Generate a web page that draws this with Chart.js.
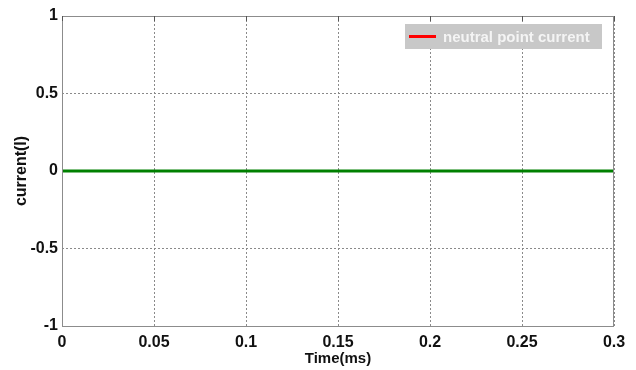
<!DOCTYPE html>
<html>
<head>
<meta charset="utf-8">
<script src="https://cdn.jsdelivr.net/npm/chart.js@4/dist/chart.umd.min.js"></script>
<style>
  html, body { margin: 0; padding: 0; background: #fff; }
  #wrap { width: 636px; height: 370px; }
</style>
</head>
<body>
<div id="wrap"><canvas id="plot"></canvas></div>
<script>
// time samples (ms) and neutral point current
var times = [0, 0.05, 0.1, 0.15, 0.2, 0.25, 0.3];
var current = [0, 0, 0, 0, 0, 0, 0];
var xTicks = [0, 0.05, 0.1, 0.15, 0.2, 0.25, 0.3];
var yTicks = [-1, -0.5, 0, 0.5, 1];

var points = times.map(function (t, i) { return { x: t, y: current[i] }; });

// frame + matlab style legend box
var framePlugin = {
    id: 'frame',
    afterDraw: function (chart) {
        var ctx = chart.ctx, a = chart.chartArea;
        ctx.save();
        ctx.strokeStyle = '#8c8c8c';
        ctx.lineWidth = 1;
        ctx.strokeRect(a.left + 0.5, a.top + 0.5, a.right - a.left - 1, a.bottom - a.top);
        // small ticks along the top edge
        var xs = chart.scales.x;
        ctx.strokeStyle = '#555';
        xTicks.forEach(function (v) {
            var px = Math.round(xs.getPixelForValue(v)) + 0.5;
            ctx.beginPath();
            ctx.moveTo(px, a.top);
            ctx.lineTo(px, a.top + 5);
            ctx.stroke();
        });
        // legend
        var bx = 405, by = 24, bw = 197, bh = 25;
        ctx.fillStyle = '#c8c8c8';
        ctx.fillRect(bx, by, bw, bh);
        ctx.strokeStyle = '#ff0000';
        ctx.lineWidth = 3;
        ctx.beginPath();
        ctx.moveTo(bx + 4, by + bh / 2);
        ctx.lineTo(bx + 31, by + bh / 2);
        ctx.stroke();
        ctx.fillStyle = '#f4f4f4';
        ctx.font = 'bold 15px "Liberation Sans", Arial, sans-serif';
        ctx.textBaseline = 'middle';
        ctx.fillText(chart.data.datasets[0].label, bx + 38, by + bh / 2 + 1);
        ctx.restore();
    }
};

var tickFont = { family: '"Liberation Sans", Arial, sans-serif', size: 16, weight: 'bold' };
var fmt = function (v) { return String(v); };

new Chart(document.getElementById('plot'), {
    type: 'line',
    data: {
        datasets: [{
            label: 'neutral point current',
            data: points,
            borderColor: '#008000',
            borderWidth: 3,
            pointRadius: 0,
            fill: false
        }]
    },
    options: {
        responsive: true,
        maintainAspectRatio: false,
        animation: false,
        layout: { padding: { top: 16, right: 22, left: 0, bottom: 0 } },
        plugins: {
            legend: { display: false },
            tooltip: { enabled: false }
        },
        scales: {
            x: {
                type: 'linear',
                min: 0,
                max: 0.3,
                afterBuildTicks: function (s) { s.ticks = xTicks.map(function (v) { return { value: v }; }); },
                afterFit: function (s) { s.height = 44; },
                ticks: { color: '#111', font: tickFont, padding: 7, maxRotation: 0, callback: fmt },
                grid: { color: '#8a8a8a', drawTicks: false },
                border: { display: false, dash: [2, 2] },
                title: {
                    display: true,
                    text: 'Time(ms)',
                    color: '#111',
                    font: { family: tickFont.family, size: 15, weight: 'bold' },
                    padding: { top: 2, bottom: 2 }
                }
            },
            y: {
                min: -1,
                max: 1,
                afterBuildTicks: function (s) { s.ticks = yTicks.map(function (v) { return { value: v }; }); },
                afterFit: function (s) { s.width = 62; },
                ticks: { color: '#111', font: tickFont, padding: 4, callback: fmt },
                grid: { color: '#8a8a8a', drawTicks: false },
                border: { display: false, dash: [2, 2] },
                title: {
                    display: true,
                    text: 'current(I)',
                    color: '#111',
                    font: tickFont,
                    padding: { top: 12, bottom: 0 }
                }
            }
        }
    },
    plugins: [framePlugin]
});
</script>
</body>
</html>
